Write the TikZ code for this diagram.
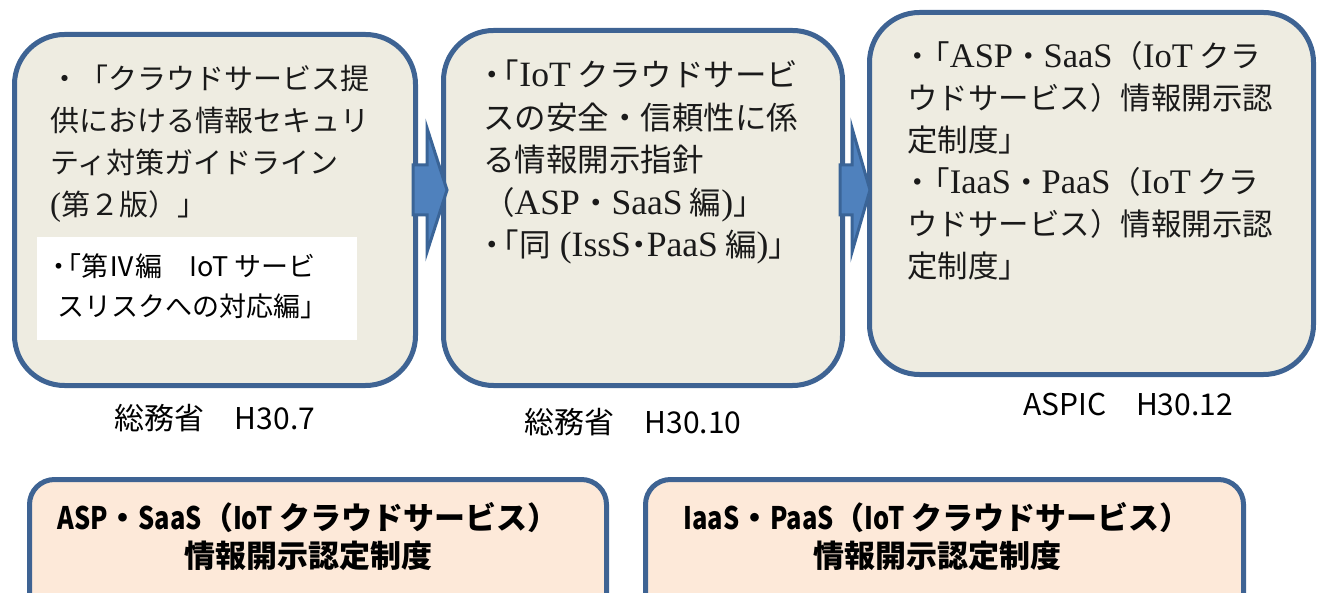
\documentclass[tikz,border=0pt]{standalone}
\usepackage{graphicx}
\usepackage{fontspec}
\setmainfont{Noto Sans CJK JP}
\newfontfamily\sr{Liberation Serif}[Scale=1.13]
\definecolor{edge}{HTML}{3E6393}
\definecolor{paper}{HTML}{EEECE1}
\definecolor{peach}{HTML}{FDE9D9}
\definecolor{arrowfill}{HTML}{4F81BD}
\definecolor{arrowedge}{HTML}{3A6497}
\definecolor{ink}{HTML}{1A1A1A}
\newcommand\bul[1][0.6em]{\makebox[#1][c]{・}}
\newcommand\kko[1][0.55em]{\makebox[#1][r]{「}}
\newcommand\cn[1]{\scalebox{0.82}[1]{#1}}
\begin{document}
\begin{tikzpicture}[x=1pt,y=-1pt,
  topbox/.style={draw=edge, line width=5pt, fill=paper, rounded corners=50pt, anchor=north west, inner sep=0pt},
  botbox/.style={draw=edge, line width=5pt, fill=peach, rounded corners=25pt, anchor=north west, inner sep=0pt},
  whitebox/.style={fill=white, anchor=north west, inner sep=0pt},
  blockarrow/.style={fill=arrowfill, draw=arrowedge, line width=3pt, line join=miter},
  body/.style={anchor=north west, align=left, inner sep=0pt, text=ink},
  datelabel/.style={inner sep=0pt, text=black, font=\fontsize{30}{30}\selectfont},
  bottext/.style={inner sep=0pt, align=center, text=black, font=\bfseries\fontsize{31}{38}\selectfont},
]
\useasboundingbox (0,0) rectangle (1319,593);
% top boxes
\node[topbox, minimum width=401pt, minimum height=351pt] (b1) at (12,32) {};
\node[topbox, minimum width=399pt, minimum height=355pt] (b2) at (441,28) {};
\node[topbox, minimum width=444pt, minimum height=362pt] (b3) at (867,10) {};
\node[whitebox, minimum width=320pt, minimum height=103pt] (w1) at (37,237) {};
% arrows
\draw[blockarrow] (413,165) -- (427,165) -- (427,128) -- (447,190) -- (427,252) -- (427,215) -- (413,215) -- cycle;
\draw[blockarrow] (840,165) -- (852,165) -- (852,128) -- (870,190) -- (852,252) -- (852,215) -- (840,215) -- cycle;
% texts
\node[body, font=\fontsize{29}{42}\selectfont] (t1) at (50,65)
  {・「クラウドサービス提\\供における情報セキュリ\\ティ対策ガイドライン\\{\sr(}第２版）」};
\node[body, font=\fontsize{27}{40}\selectfont, text=black] (t1w) at (57,253)
  {\hspace*{-5pt}\bul[0.5em]\kko[0.6em]第Ⅳ編　IoT サービ\\スリスクへの対応編」};
\node[body, font=\fontsize{31.5}{42.5}\selectfont] (t2) at (483,60)
  {\bul\kko{\sr IoT} クラウドサービ\\スの安全・信頼性に係\\る情報開示指針\\（{\sr ASP}・{\sr SaaS} 編{\sr )}」\\\bul\kko 同{\sr\ (IssS}\bul[0.5em]{\sr PaaS} 編{\sr )}」};
\node[body, font=\fontsize{30.5}{42}\selectfont] (t3) at (907,41)
  {\bul[0.7em]\kko[0.7em]{\sr ASP}・{\sr SaaS}（{\sr IoT} クラ\\ウドサービス）情報開示認\\定制度」\\\bul[0.7em]\kko[0.7em]{\sr IaaS}・{\sr PaaS}（{\sr IoT} クラ\\ウドサービス）情報開示認\\定制度」};
% date labels
\node[datelabel] (d1) at (215,418) {総務省　H30.7};
\node[datelabel] (d2) at (633,422) {総務省　H30.10};
\node[datelabel] (d3) at (1128,405) {ASPIC　H30.12};
% bottom boxes
\node[botbox, minimum width=577pt, minimum height=139pt] (c1) at (27,477) {};
\node[botbox, minimum width=598pt, minimum height=139pt] (c2) at (643,477) {};
\node[bottext] (c1t) at (308,537) {\cn{ASP}・\cn{SaaS}（\cn{IoT} クラウドサービス）\\情報開示認定制度};
\node[bottext] (c2t) at (937,537) {\cn{IaaS}・\cn{PaaS}（\cn{IoT} クラウドサービス）\\情報開示認定制度};
\end{tikzpicture}
\end{document}
